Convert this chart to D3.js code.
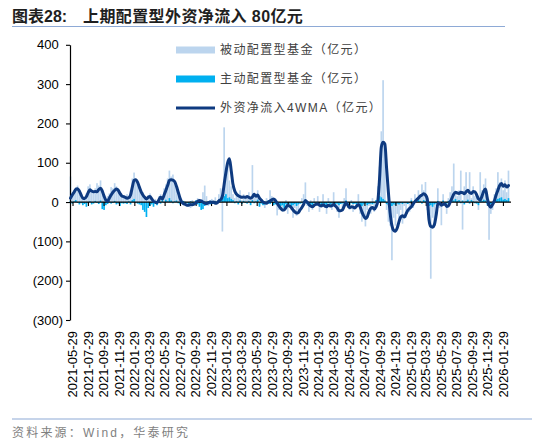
<!DOCTYPE html>
<html>
<head>
<meta charset="utf-8">
<script src="https://cdn.jsdelivr.net/npm/d3@7"></script>
<style>
  body { margin: 0; background: #fff; }
  svg { display: block; }
</style>
</head>
<body>
<div class="flow-chart"></div>
<script>
// weekly data, first week ending 2021-05-21
const startDate = "2021-05-21";

const tickLabels = [
  "2021-05-29", "2021-07-29", "2021-09-29", "2021-11-29",
  "2022-01-29", "2022-03-29", "2022-05-29", "2022-07-29", "2022-09-29", "2022-11-29",
  "2023-01-29", "2023-03-29", "2023-05-29", "2023-07-29", "2023-09-29", "2023-11-29",
  "2024-01-29", "2024-03-29", "2024-05-29", "2024-07-29", "2024-09-29", "2024-11-29",
  "2025-01-29", "2025-03-29", "2025-05-29", "2025-07-29", "2025-09-29", "2025-11-29",
  "2026-01-29"
];

const yTicks = [-300, -200, -100, 0, 100, 200, 300, 400];

// 被动配置型基金（亿元）
const passive = [
  65, 20, 30, 38, 42, 25, 15, 8, 12, 22,
  40, 45, 30, 28, 35, 48, 42, 55, 30, 10,
  5, 15, 22, 38, 35, 48, 40, 35, 20, 15,
  18, 12, 20, 15, 30, 60, 75, 60, 55, 40,
  30, 25, 15, 10, 18, 22, 12, 5, 8, -5,
  15, 20, 10, 35, 45, 60, 80, 65, 70, 50,
  35, 15, 5, -5, -8, 2, -12, -5, -15, 5,
  -10, 5, 10, 8, -2, 25, 42, 15, -10, 5,
  8, -5, 12, -3, 20, 35, -75, 190, 80, 95,
  55, 40, 20, 10, 25, 15, 30, 5, 20, 12,
  10, 25, 5, 94, 20, 15, 30, -10, 10, -5,
  -15, 10, 5, 30, 15, -5, 10, -34, -20, -10,
  -25, -10, 5, -30, -5, -20, -40, -15, -35, -20,
  -5, 10, 20, 50, -10, -25, 5, -20, 10, -5,
  15, -25, -5, 20, -15, -30, 10, -5, -20, 25,
  -10, -25, -40, -5, -20, 10, 35, -15, -20, 5,
  -25, -5, -15, 20, -30, -50, -30, -62, -20, -10,
  -30, 10, -25, -5, 40, 90, 180, 310, 150, -20,
  -50, -60, -148, -40, -60, -30, -45, -20, -55, -10,
  -40, -5, -25, 10, -15, 20, 5, 30, 15, 45,
  30, 51, -20, -40, -195, -40, -60, -10, 35, -15,
  -59, 20, -5, -30, 10, 25, 40, 98, 20, 15,
  30, 80, -70, 40, 76, 20, 76, 10, 40, 15,
  10, -20, 76, 30, 45, 60, -10, -96, -30, -20,
  20, 35, 76, 50, 60, 30, 55, 25, 80
];

// 主动配置型基金（亿元）
const active = [
  3, -4, 2, 5, -2, -6, -3, -8, -5, -12,
  -3, 2, -6, -4, 3, -2, -5, 4, -18, -20,
  -8, -5, 2, -4, -2, 3, -6, -4, -10, -3,
  -4, -3, -5, 2, -6, 5, 8, -2, -4, -6,
  -8, -20, -25, -38, -15, -10, -6, -12, -5, -8,
  3, -4, 5, -2, 6, 2, 10, 4, -3, 2,
  4, -3, -6, -2, 3, -5, -2, -8, 2, -4,
  -3, 4, -6, -12, -20, -18, -10, -4, 2, -6,
  3, -5, 2, -4, 6, 8, 12, 15, 20, 10,
  12, 8, 5, -3, 2, -6, 4, -5, 3, -2,
  -4, 3, -8, 5, -3, 2, 6, -12, -4, -8,
  -6, -3, 4, -5, 2, -8, -6, -4, -12, -10,
  -8, -15, -6, -10, -4, -12, -8, -5, -10, -6,
  -4, -3, 2, 6, -5, -10, -6, -8, -3, -4,
  -5, -3, -8, -4, -6, -10, -3, -7, -4, -2,
  -6, -4, -8, -5, -3, -6, 4, -4, -8, -3,
  -5, -4, -6, -3, -8, -10, -6, -4, -8, -5,
  -4, -6, -3, 5, 10, 15, 12, 8, 4, -5,
  -8, -12, -10, -6, -8, -4, -6, -3, -5, -2,
  -3, -5, -2, 4, -3, 5, 2, 6, 3, -4,
  5, 3, -6, -10, -8, -12, -6, -4, 3, -5,
  -8, 4, -6, -4, 3, 5, 6, 4, 8, 3,
  5, -3, 4, -6, 3, 6, -4, 5, 2, -3,
  -4, -8, 5, 3, 6, 4, -6, -10, -5, -3,
  5, 6, 8, 10, 12, 6, 8, 5, 10
];

// 外资净流入4WMA（亿元）
const wma = [
  10, 18, 25, 32, 34, 28, 18, 10, 9, 14,
  24, 31, 28, 26, 27, 26, 32, 35, 28, 15,
  5, 2, 10, 18, 25, 30, 33, 30, 22, 16,
  14, 12, 10, 11, 18, 38, 55, 57, 50, 38,
  26, 18, 12, 8, 12, 14, 8, 2, 0, -2,
  5, 12, 8, 18, 30, 42, 55, 57, 56, 52,
  40, 25, 10, 0, -4, -6, -8, -8, -6, -7,
  -5, -2, 2, 4, 3, 0, -3, -4, -2, 0,
  -1, 0, -3, -2, 3, 6, 15, 45, 75, 100,
  110, 80, 45, 28, 20, 16, 14, 12, 13, 12,
  14, 12, 10, 13, 20, 15, 18, 10, 5, 0,
  -2, -3, 0, 3, 6, 8, 4, -3, -10, -16,
  -20, -20, -14, -8, -10, -14, -20, -25, -28, -27,
  -20, -14, -6, 4, 0, -6, -10, -12, -8, -6,
  -5, -8, -10, -7, -10, -12, -8, -10, -9, -6,
  -10, -15, -22, -22, -20, -10, -2, -8, -14, -12,
  -13, -15, -10, -6, -12, -25, -35, -42, -38, -25,
  -16, -14, -18, -12, 2, 60, 140, 152, 148, 85,
  25, -28, -60, -72, -74, -66, -50, -38, -35, -38,
  -30, -21, -16, -12, -5, 1, 6, 10, 15, 18,
  21, 18, 8, -45, -62, -64, -58, -35, -5, -3,
  -8, -6, -5, -11, -10, 0, 10, 20, 25, 23,
  22, 25, 24, 21, 26, 30, 24, 22, 27, 26,
  18, 8, 5, 15, 28, 33, 10, -8, -13, -6,
  3, 18, 30, 42, 47, 40, 44, 38, 42
];

const width = 550, height = 447;
const plot = {left: 70, right: 511, top: 44.8, bottom: 320};
const latin = "'Liberation Sans', Arial, sans-serif";
const cjk = "'Liberation Sans', 'Noto Sans CJK SC', sans-serif";

const parse = d3.utcParse("%Y-%m-%d");
const t0 = parse(startDate);
const data = passive.map((p, i) => ({
  date: d3.utcDay.offset(t0, 7 * i),
  passive: p,
  active: active[i],
  wma: wma[i]
}));

const x = d3.scaleUtc()
  .domain([parse("2021-05-19"), parse("2026-03-02")])
  .range([plot.left, plot.right]);

const y = d3.scaleLinear()
  .domain([-300, 400])
  .range([plot.bottom, plot.top]);

const barW = (x(d3.utcDay.offset(t0, 7)) - x(t0)) * 0.95;

const svg = d3.select(".flow-chart").append("svg")
  .attr("width", width)
  .attr("height", height)
  .attr("viewBox", `0 0 ${width} ${height}`);

// title
const title = svg.append("text")
  .attr("y", 22)
  .attr("font-family", cjk)
  .attr("font-size", 16)
  .attr("font-weight", "bold")
  .attr("fill", "#1f1f1f");

title.append("tspan").attr("x", 12).text("图表28:");
title.append("tspan").attr("x", 83).attr("letter-spacing", 0.4).text("上期配置型外资净流入 80亿元");

svg.append("line")
  .attr("x1", 12).attr("x2", 505)
  .attr("y1", 26.5).attr("y2", 26.5)
  .attr("stroke", "#8eaad6")
  .attr("stroke-width", 1.2);

// bars
svg.append("g")
  .selectAll("rect")
  .data(data)
  .join("rect")
  .attr("x", d => x(d.date) - barW / 2)
  .attr("y", d => y(Math.max(0, d.passive)))
  .attr("width", barW)
  .attr("height", d => Math.abs(y(d.passive) - y(0)))
  .attr("fill", "#bcd5ee");

svg.append("g")
  .selectAll("rect")
  .data(data)
  .join("rect")
  .attr("x", d => x(d.date) - barW / 2)
  .attr("y", d => y(Math.max(0, d.active)))
  .attr("width", barW)
  .attr("height", d => Math.abs(y(d.active) - y(0)))
  .attr("fill", "#00b0f0");

// y axis
const yAxis = svg.append("g")
  .attr("transform", `translate(${plot.left},0)`)
  .call(d3.axisLeft(y)
    .tickValues(yTicks)
    .tickSize(4)
    .tickSizeOuter(0)
    .tickPadding(3)
    .tickFormat(v => v < 0 ? `(${-v})` : `${v}`));

yAxis.select(".domain").attr("stroke", "#000").attr("stroke-width", 1.2);
yAxis.selectAll(".tick line").attr("stroke", "#000").attr("stroke-width", 1.1);
yAxis.selectAll(".tick text")
  .attr("font-family", latin)
  .attr("font-size", 13)
  .attr("fill", "#000")
  .filter(v => v >= 0)
  .append("tspan")
  .attr("fill", "none")
  .text(")");

// x axis along zero
const xAxis = svg.append("g")
  .attr("transform", `translate(0,${y(0)})`)
  .call(d3.axisBottom(x)
    .tickValues(tickLabels.map(parse))
    .tickSize(4)
    .tickSizeOuter(0)
    .tickFormat(""));

xAxis.select(".domain").remove();
xAxis.append("line")
  .attr("x1", plot.left).attr("x2", plot.right)
  .attr("stroke", "#000")
  .attr("stroke-width", 1.3);
xAxis.selectAll(".tick line").attr("stroke", "#000").attr("stroke-width", 1.1);

svg.append("g")
  .selectAll("text")
  .data(tickLabels)
  .join("text")
  .attr("transform", d => `translate(${x(parse(d))},331) rotate(-90)`)
  .attr("dy", "0.36em")
  .attr("text-anchor", "end")
  .attr("font-family", latin)
  .attr("font-size", 13)
  .attr("fill", "#000")
  .text(d => d);

// 4WMA line
const wmaLine = d3.line()
  .x(d => x(d.date))
  .y(d => y(d.wma))
  .curve(d3.curveMonotoneX);

svg.append("path")
  .datum(data)
  .attr("fill", "none")
  .attr("stroke", "#0e3a80")
  .attr("stroke-width", 3)
  .attr("stroke-linejoin", "round")
  .attr("stroke-linecap", "round")
  .attr("d", wmaLine);

// legend
const legendItems = [
  {label: "被动配置型基金（亿元）", type: "rect", color: "#bcd5ee"},
  {label: "主动配置型基金（亿元）", type: "rect", color: "#00b0f0"},
  {label: "外资净流入4WMA（亿元）", type: "line", color: "#0e3a80"}
];

const legend = svg.append("g")
  .selectAll("g")
  .data(legendItems)
  .join("g")
  .attr("transform", (d, i) => `translate(176,${50 + i * 29})`);

legend.filter(d => d.type === "rect")
  .append("rect")
  .attr("x", 0).attr("y", -3.5)
  .attr("width", 39).attr("height", 7)
  .attr("fill", d => d.color);

legend.filter(d => d.type === "line")
  .append("line")
  .attr("x1", 0).attr("x2", 39)
  .attr("stroke", d => d.color)
  .attr("stroke-width", 2.8);

legend.append("text")
  .attr("x", 44)
  .attr("dy", "0.36em")
  .attr("font-family", cjk)
  .attr("font-size", 12)
  .attr("letter-spacing", 1.4)
  .attr("fill", "#404040")
  .text(d => d.label);

// source
svg.append("line")
  .attr("x1", 12).attr("x2", 532)
  .attr("y1", 419).attr("y2", 419)
  .attr("stroke", "#8eaad6")
  .attr("stroke-width", 1.2);

svg.append("text")
  .attr("x", 12)
  .attr("y", 437)
  .attr("font-family", cjk)
  .attr("font-size", 12)
  .attr("letter-spacing", 2.2)
  .attr("fill", "#7f7f7f")
  .text("资料来源：Wind，华泰研究");
</script>
</body>
</html>
